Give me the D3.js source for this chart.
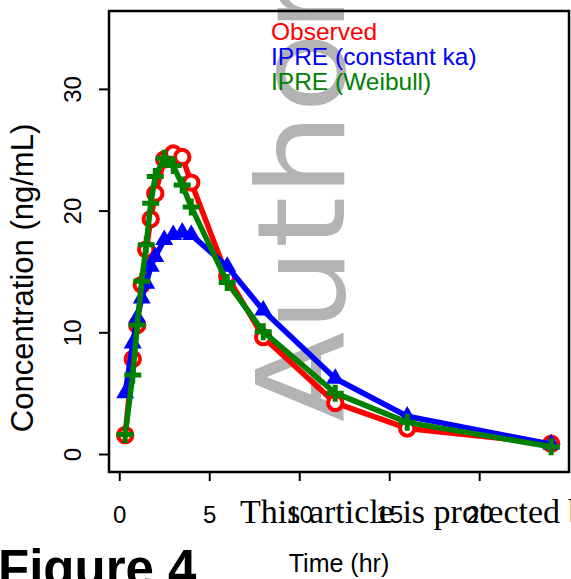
<!DOCTYPE html>
<html>
<head>
<meta charset="utf-8">
<script src="https://cdnjs.cloudflare.com/ajax/libs/d3/7.8.5/d3.min.js"></script>
<style>
	body { margin: 0; background: #fff; }
	svg { display: block; font-family: 'Liberation Sans', Arial, sans-serif; }
</style>
</head>
<body>
<svg id="svg1" width="571" height="579"></svg>
<script>
const times = [0.33, 0.75, 1, 1.25, 1.5, 1.75, 2, 2.5, 3, 3.5, 4, 6, 8, 12, 16, 24]
const observed = [1.55, 7.8, 10.6, 13.9, 16.8, 19.3, 21.4, 24.2, 24.7, 24.4, 22.3, 14.6, 9.6, 4.2, 2.1, 0.85]
const ipreConstKa = [5.0, 9.1, 11.2, 12.8, 14.0, 15.4, 16.2, 17.6, 18.0, 18.2, 18.0, 15.4, 11.8, 6.2, 3.1, 0.8]
const ipreWeibull = [1.6, 6.5, 10.6, 14.2, 17.2, 20.6, 22.8, 24.3, 23.7, 22.1, 20.3, 14.1, 10.05, 5.0, 2.6, 0.6]
const xTicks = [0, 5, 10, 15, 20]
const yTicks = [0, 10, 20, 30]
const legendLabels = ['Observed', 'IPRE (constant ka)', 'IPRE (Weibull)']

const svg = d3.select('#svg1')
const box = {left: 109, right: 569, top: 11, bottom: 472}

const xScale = d3.scaleLinear()
	.domain([-0.57, 24.99])
	.range([box.left, box.right])

const yScale = d3.scaleLinear()
	.domain([-1.48, 36.4])
	.range([box.bottom, box.top])

// watermark sits under the data
svg.append('text')
	.text('Author')
	.attr('transform', `translate(344, 422) rotate(-90)`)
	.attr('font-family', 'DejaVu Sans, sans-serif')
	.attr('font-size', 122)
	.attr('textLength', 444)
	.attr('lengthAdjust', 'spacingAndGlyphs')
	.attr('fill', '#b3b3b3')

const series = [
	{name: 'obs', values: observed, color: '#ff0000'},
	{name: 'const', values: ipreConstKa, color: '#0000ff'},
	{name: 'weib', values: ipreWeibull, color: '#008000'}
]

const line = d3.line()
	.x(d => xScale(d[0]))
	.y(d => yScale(d[1]))

series.forEach(s => {
	const pts = times.map((t, i) => [t, s.values[i]])
	const g = svg.append('g').attr('id', 'series-' + s.name)

	g.append('path')
		.datum(pts)
		.attr('d', line)
		.attr('fill', 'none')
		.attr('stroke', s.color)
		.attr('stroke-width', 5.5)
		.attr('stroke-linejoin', 'round')

	const marks = g.selectAll('.mark')
		.data(pts)
		.enter()

	if (s.name == 'obs') {
		marks.append('circle')
			.attr('cx', d => xScale(d[0]))
			.attr('cy', d => yScale(d[1]))
			.attr('r', 7.2)
			.attr('fill', '#fff')
			.attr('stroke', s.color)
			.attr('stroke-width', 4)
	} else if (s.name == 'const') {
		marks.append('path')
			.attr('d', d3.symbol().type(d3.symbolTriangle).size(140))
			.attr('transform', d => `translate(${xScale(d[0])}, ${yScale(d[1])})`)
			.attr('fill', s.color)
	} else {
		marks.append('path')
			.attr('d', 'M-8.5,0H8.5M0,-8.5V8.5')
			.attr('transform', d => `translate(${xScale(d[0])}, ${yScale(d[1])})`)
			.attr('stroke', s.color)
			.attr('stroke-width', 5)
	}
})

// frame
svg.append('rect')
	.attr('x', box.left)
	.attr('y', box.top)
	.attr('width', box.right - box.left)
	.attr('height', box.bottom - box.top)
	.attr('fill', 'none')
	.attr('stroke', '#000')
	.attr('stroke-width', 2.5)

const xAxis = d3.axisBottom(xScale)
	.tickValues(xTicks)
	.tickSize(9)
	.tickPadding(25)

const yAxis = d3.axisLeft(yScale)
	.tickValues(yTicks)
	.tickSize(10)

const xAxisData = svg.append('g')
	.attr('transform', `translate(0, ${box.bottom})`)
	.call(xAxis)

xAxisData.select('.domain').remove()
xAxisData.selectAll('line').attr('stroke-width', 2)
xAxisData.selectAll('text')
	.attr('font-size', 24)
	.attr('font-family', 'Liberation Sans, Arial, sans-serif')
	.attr('fill', '#000')

const yAxisData = svg.append('g')
	.attr('transform', `translate(${box.left}, 0)`)
	.call(yAxis)

yAxisData.select('.domain').remove()
yAxisData.selectAll('line').attr('stroke-width', 2)
yAxisData.selectAll('text')
	.attr('font-size', 24)
	.attr('font-family', 'Liberation Sans, Arial, sans-serif')
	.attr('fill', '#000')
	.attr('text-anchor', 'middle')
	.attr('x', null)
	.attr('dy', null)
	.attr('y', 0)
	.attr('transform', `translate(${80.5 - box.left}, 0) rotate(-90)`)

// axis titles
svg.append('text')
	.text('Concentration (ng/mL)')
	.attr('transform', `translate(33, 278) rotate(-90)`)
	.attr('text-anchor', 'middle')
	.attr('font-size', 31)

svg.append('text')
	.text('Time (hr)')
	.attr('x', (box.left + box.right) / 2)
	.attr('y', 572)
	.attr('text-anchor', 'middle')
	.attr('font-size', 25)

// legend
svg.append('g').selectAll('text')
	.data(legendLabels)
	.enter()
	.append('text')
	.text(d => d)
	.attr('x', 271)
	.attr('y', (d, i) => 40 + i * 25)
	.attr('font-size', 24.5)
	.attr('fill', (d, i) => series[i].color)

// page overlays
svg.append('text')
	.text('This article is protected by copyright. All rights reserved')
	.attr('x', 240)
	.attr('y', 523)
	.attr('font-family', 'Liberation Serif, Times New Roman, serif')
	.attr('font-size', 34)

svg.append('text')
	.text('Figure 4')
	.attr('x', -2)
	.attr('y', 586)
	.attr('font-size', 51)
	.attr('font-weight', 'bold')
</script>
</body>
</html>
